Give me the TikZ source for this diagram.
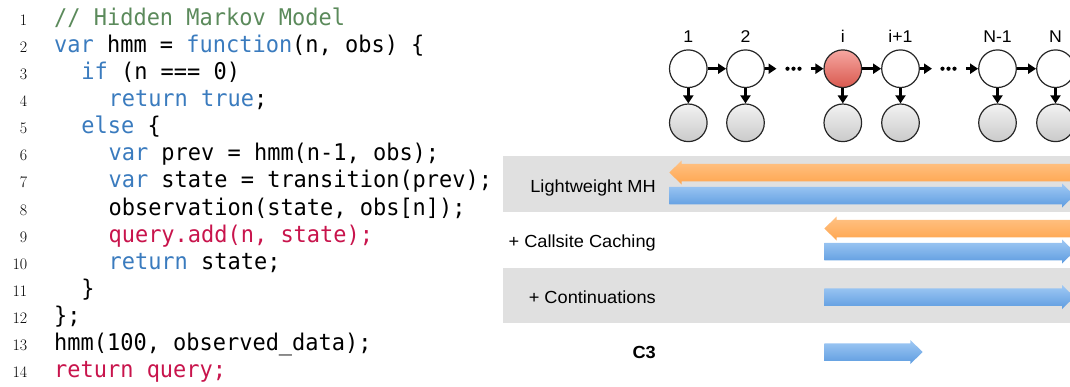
\documentclass[tikz,border=0pt]{standalone}
\usepackage{fontspec}
\newfontfamily\codefont[FakeStretch=0.955]{DejaVu Sans Mono}
\newfontfamily\labfont[FakeStretch=1.04]{Liberation Sans}
\usetikzlibrary{arrows.meta}
\definecolor{cmt}{HTML}{5B8A5B}
\definecolor{kw}{HTML}{3A7BBE}
\definecolor{hl}{HTML}{C8144C}
\definecolor{band}{HTML}{E0E0E0}
\definecolor{orTop}{HTML}{FFC285}
\definecolor{orBot}{HTML}{FFA64F}
\definecolor{blTop}{HTML}{A0C9F4}
\definecolor{blBot}{HTML}{5E9CE0}
\definecolor{redTop}{HTML}{F6A7A1}
\definecolor{redBot}{HTML}{D9594F}
\definecolor{grTop}{HTML}{F2F2F2}
\definecolor{grBot}{HTML}{CACACA}
\newcommand\RArr[4]{%
  \shade[#1] (#2,{#4-8.75}) -- ({#3-12.4},{#4-8.75}) -- ({#3-12.4},{#4-12}) -- (#3,#4)
    -- ({#3-12.4},{#4+12}) -- ({#3-12.4},{#4+8.75}) -- (#2,{#4+8.75}) -- cycle;}
\newcommand\LArr[4]{%
  \shade[#1] (#2,#4) -- ({#2+12.4},{#4-12}) -- ({#2+12.4},{#4-8.75}) -- (#3,{#4-8.75})
    -- (#3,{#4+8.75}) -- ({#2+12.4},{#4+8.75}) -- ({#2+12.4},{#4+12}) -- cycle;}
\begin{document}
\begin{tikzpicture}[x=1pt,y=-1pt,
  codeline/.style={anchor=base west, inner sep=0pt, font=\codefont\fontsize{23}{27}\selectfont},
  numline/.style={anchor=base east, inner sep=0pt, font=\fontsize{16}{18}\selectfont},
  rowlab/.style={anchor=base east, inner sep=0pt, font=\labfont\fontsize{17.5}{20}\selectfont},
  hmmlab/.style={anchor=base, inner sep=0pt, font=\labfont\fontsize{17}{19}\selectfont},
  circ/.style={circle, draw=black!85, line width=1.2pt, minimum size=37.6pt, inner sep=0pt},
  hid/.style={circ, fill=white},
  hidred/.style={circ, top color=redTop, bottom color=redBot},
  obs/.style={circ, top color=grTop, bottom color=grBot},
  hmmarrow/.style={line width=2.8pt, -{Triangle[length=8pt,width=10pt]}},
  dotmark/.style={fill=black},
  orarrow/.style={top color=orTop, bottom color=orBot},
  blarrow/.style={top color=blTop, bottom color=blBot}]
\useasboundingbox (0,0) rectangle (1070,386);
\clip (0,0) rectangle (1070,386);

% ---- code listing ----
\foreach \k in {1,...,14}{
  \node[numline] (n\k) at (27.5,{25+(\k-1)*27.15}) {\k};
}
\node[codeline] (l1) at (54,25) {\textcolor{cmt}{// Hidden Markov Model}};
\node[codeline] (l2) at (54,52.15) {\textcolor{kw}{var} hmm = \textcolor{kw}{function}(n, obs) \{};
\node[codeline] (l3) at (81.2,79.3) {\textcolor{kw}{if} (n === 0)};
\node[codeline] (l4) at (108.4,106.45) {\textcolor{kw}{return} \textcolor{kw}{true};};
\node[codeline] (l5) at (81.2,133.6) {\textcolor{kw}{else} \{};
\node[codeline] (l6) at (108.4,160.75) {\textcolor{kw}{var} prev = hmm(n-1, obs);};
\node[codeline] (l7) at (108.4,187.9) {\textcolor{kw}{var} state = transition(prev);};
\node[codeline] (l8) at (108.4,215.05) {observation(state, obs[n]);};
\node[codeline] (l9) at (108.4,242.2) {\textcolor{hl}{query.add(n, state);}};
\node[codeline] (l10) at (108.4,269.35) {\textcolor{kw}{return} state;};
\node[codeline] (l11) at (81.2,296.5) {\}};
\node[codeline] (l12) at (54,323.65) {\};};
\node[codeline] (l13) at (54,350.8) {hmm(100, observed\_data);};
\node[codeline] (l14) at (54,377.95) {\textcolor{hl}{return query;}};

% ---- bands ----
\fill[band] (503,156) rectangle (1080,212);
\fill[band] (503,268) rectangle (1080,323);

% ---- arrows ----
\LArr{orarrow}{669.3}{1080}{172.5}
\RArr{blarrow}{669.3}{1074.4}{195.5}
\LArr{orarrow}{824.3}{1080}{228.5}
\RArr{blarrow}{824.3}{1074.4}{251.5}
\RArr{blarrow}{824.3}{1074.4}{297}
\RArr{blarrow}{824.3}{922.7}{352}

% ---- row labels ----
\node[rowlab] (r1) at (656,192.3) {Lightweight MH};
\node[rowlab] (r2) at (656,247) {+ Callsite Caching};
\node[rowlab] (r3) at (656,303) {+ Continuations};
\node[rowlab, font=\labfont\bfseries\fontsize{17.5}{20}\selectfont] (r4) at (656,358) {C3};

% ---- HMM ----
\node[hid] (h1) at (688.3,68.7) {};
\node[hid] (h2) at (745.5,68.7) {};
\node[hidred] (hi) at (842.8,68.7) {};
\node[hid] (hj) at (900.5,68.7) {};
\node[hid] (hm) at (997.5,68.7) {};
\node[hid] (hn) at (1055.5,68.7) {};
\node[obs] (o1) at (688.3,122.8) {};
\node[obs] (o2) at (745.5,122.8) {};
\node[obs] (oi) at (842.8,122.8) {};
\node[obs] (oj) at (900.5,122.8) {};
\node[obs] (om) at (997.5,122.8) {};
\node[obs] (on) at (1055.5,122.8) {};

\node[hmmlab] (t1) at (688.3,42.7) {1};
\node[hmmlab] (t2) at (745.5,42.7) {2};
\node[hmmlab] (ti) at (842.8,42.7) {i};
\node[hmmlab] (tj) at (900.5,42.7) {i+1};
\node[hmmlab] (tm) at (997.5,42.7) {N-1};
\node[hmmlab] (tn) at (1055.5,42.7) {N};

\coordinate (d1a) at (776.5,68.7);
\coordinate (d1b) at (810.5,68.7);
\coordinate (d2a) at (932,68.7);
\coordinate (d2b) at (966,68.7);
\foreach \xx in {787.5,793.5,799.5,942.5,948.5,954.5}{
  \fill[dotmark] (\xx,68.7) circle (2.1pt);
}

\draw[hmmarrow] (h1) -- (h2);
\draw[hmmarrow] (h2) -- (d1a);
\draw[hmmarrow] (d1b) -- (hi);
\draw[hmmarrow] (hi) -- (hj);
\draw[hmmarrow] (hj) -- (d2a);
\draw[hmmarrow] (d2b) -- (hm);
\draw[hmmarrow] (hm) -- (hn);
\foreach \a/\b in {h1/o1,h2/o2,hi/oi,hj/oj,hm/om,hn/on}{
  \draw[hmmarrow] (\a) -- (\b);
}
\end{tikzpicture}
\end{document}
